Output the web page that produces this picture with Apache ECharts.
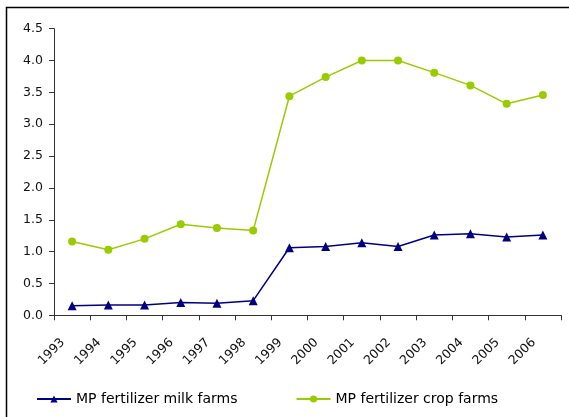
<!DOCTYPE html>
<html>
<head>
<meta charset="utf-8">
<script src="https://cdn.jsdelivr.net/npm/echarts@6/dist/echarts.min.js"></script>
<style>
  html, body { margin: 0; padding: 0; background: #fff; }
  #chart { width: 569px; height: 417px; }
</style>
</head>
<body>
<div id="chart"></div>
<script>
// Years on the category axis
const years = ['1993','1994','1995','1996','1997','1998','1999','2000','2001','2002','2003','2004','2005','2006'];

// MP fertilizer use per year
const milkFarms = [0.15, 0.16, 0.16, 0.20, 0.19, 0.23, 1.06, 1.08, 1.14, 1.08, 1.26, 1.28, 1.23, 1.26];
const cropFarms = [1.16, 1.03, 1.20, 1.43, 1.37, 1.33, 3.44, 3.74, 4.00, 4.00, 3.81, 3.61, 3.32, 3.46];

// Value axis range and step
const yMin = 0;
const yMax = 4.5;
const yStep = 0.5;

const seriesNames = ['MP fertilizer milk farms', 'MP fertilizer crop farms'];

const font = 'DejaVu Sans';
const chart = echarts.init(document.getElementById('chart'), null, { renderer: 'canvas' });

chart.setOption({
  animation: false,
  backgroundColor: '#ffffff',
  textStyle: { fontFamily: font },
  graphic: [{
    type: 'rect',
    shape: { x: 6.5, y: 7.5, width: 620, height: 520 },
    style: { fill: 'none', stroke: '#000', lineWidth: 1.5 },
    silent: true
  }],
  grid: { left: 54, right: 8, top: 28.7, bottom: 101.7 },
  legend: {
    left: 36,
    top: 392,
    padding: 0,
    itemWidth: 34,
    itemHeight: 9,
    itemGap: 58,
    textStyle: { fontFamily: font, fontSize: 14, color: '#000' },
    data: seriesNames
  },
  xAxis: {
    type: 'category',
    data: years,
    boundaryGap: true,
    axisLine: { lineStyle: { color: '#333', width: 1 } },
    axisTick: { show: true, length: 5, alignWithLabel: false, lineStyle: { color: '#333' } },
    axisLabel: {
      rotate: 45, margin: 16, padding: [0, 13, 0, 0],
      fontFamily: font, fontSize: 12.5, color: '#111', interval: 0
    },
    splitLine: { show: false }
  },
  yAxis: {
    type: 'value',
    min: yMin,
    max: yMax,
    interval: yStep,
    axisLine: { show: true, lineStyle: { color: '#333', width: 1 } },
    axisTick: { show: true, length: 5, lineStyle: { color: '#333' } },
    axisLabel: {
      margin: 11, fontFamily: font, fontSize: 12.5, color: '#111',
      formatter: v => v.toFixed(1)
    },
    splitLine: { show: false }
  },
  series: [
    {
      name: seriesNames[0],
      type: 'line',
      data: milkFarms,
      symbol: 'triangle',
      symbolSize: 9,
      showAllSymbol: true,
      lineStyle: { color: '#000080', width: 1.5 },
      itemStyle: { color: '#000080' }
    },
    {
      name: seriesNames[1],
      type: 'line',
      data: cropFarms,
      symbol: 'circle',
      symbolSize: 8,
      showAllSymbol: true,
      lineStyle: { color: '#99CC00', width: 1.5 },
      itemStyle: { color: '#99CC00' }
    }
  ]
});
</script>
</body>
</html>
